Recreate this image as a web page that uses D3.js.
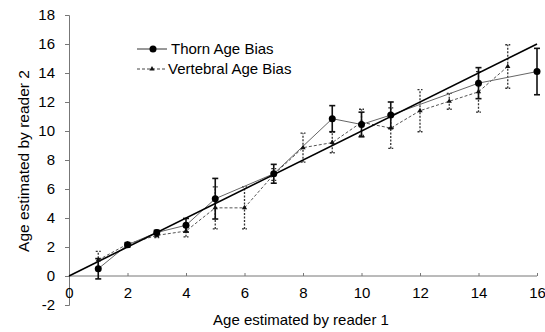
<!DOCTYPE html>
<html>
<head>
<meta charset="utf-8">
<script src="https://cdn.jsdelivr.net/npm/d3@7/dist/d3.min.js"></script>
<style>
  html, body { margin: 0; padding: 0; background: #fff; }
  svg { display: block; font-family: "Liberation Sans", Arial, sans-serif; }
</style>
</head>
<body>
<svg id="chart" width="545" height="332"></svg>
<script>
// Age estimates: reader 1 (x) against reader 2 (y)
const thornX   = [1, 2, 3, 4, 5, 7, 9, 10, 11, 14, 16];
const thornY   = [0.5, 2.15, 3.0, 3.5, 5.33, 7.05, 10.85, 10.45, 11.1, 13.3, 14.1];
const thornErr = [0.7, 0.15, 0.15, 0.47, 1.4, 0.65, 0.9, 0.85, 0.9, 1.07, 1.6];

const vertX   = [1, 2, 3, 4, 5, 6, 7, 8, 9, 10, 11, 12, 13, 14, 15];
const vertY   = [1.1, 2.2, 2.8, 3.1, 4.7, 4.7, 7.0, 8.85, 9.2, 10.6, 10.2, 11.4, 12.05, 12.7, 14.45];
const vertErr = [0.6, 0.1, 0.15, 0.4, 1.45, 1.45, 0.4, 1.0, 0.7, 0.9, 1.4, 1.45, 0.55, 1.4, 1.5];

const identityLine = [0, 16];
const xTicks = [0, 2, 4, 6, 8, 10, 12, 14, 16];
const yTicks = [-2, 0, 2, 4, 6, 8, 10, 12, 14, 16, 18];

const seriesNames = ["Thorn Age Bias", "Vertebral Age Bias"];
const xTitle = "Age estimated by reader 1";
const yTitle = "Age estimated by reader 2";

const svg = d3.select("#chart");

const x = d3.scaleLinear().domain([0, 16]).range([69, 537]);
const y = d3.scaleLinear().domain([-2, 18]).range([305, 15]);

const thorn = thornX.map((v, i) => ({ x: v, y: thornY[i], e: thornErr[i] }));
const vert = vertX.map((v, i) => ({ x: v, y: vertY[i], e: vertErr[i] }));

// Axes
const yAxis = d3.axisLeft(y).tickValues(yTicks).tickSize(4).tickPadding(10).tickFormat(d3.format("d"));
const gy = svg.append("g").attr("transform", `translate(${x(0)},0)`).call(yAxis);
gy.select(".domain").attr("stroke", "#777");
gy.selectAll(".tick line").attr("stroke", "#777");
gy.selectAll(".tick text").attr("font-size", 15).attr("fill", "#000")
  .attr("font-family", "Liberation Sans, Arial, sans-serif").text(d => d < 0 ? "-" + Math.abs(d) : d);

const xAxis = d3.axisTop(x).tickValues(xTicks).tickSize(3).tickFormat(d3.format("d"));
const gx = svg.append("g").attr("transform", `translate(0,${y(0)})`).call(xAxis);
gx.select(".domain").attr("stroke", "#777").attr("d", `M${x(0)},0H${x(16)}`);
gx.selectAll(".tick line").attr("stroke", "#777");
gx.selectAll(".tick text").attr("font-size", 15).attr("fill", "#000")
  .attr("font-family", "Liberation Sans, Arial, sans-serif")
  .attr("y", 21.5).attr("dy", 0);

// Axis titles
svg.append("text").attr("x", 301).attr("y", 325).attr("text-anchor", "middle")
  .attr("font-size", 15).text(xTitle);
svg.append("text").attr("transform", "translate(29,161) rotate(-90)")
  .attr("text-anchor", "middle").attr("font-size", 15.5).text(yTitle);

// Error bars
function errorBars(data, cls, stroke, width, dash, cap) {
  const g = svg.append("g").attr("class", cls)
    .attr("stroke", stroke).attr("stroke-width", width).attr("fill", "none");
  if (dash) g.attr("stroke-dasharray", dash);
  g.selectAll("line.v").data(data).join("line").attr("class", "v")
    .attr("x1", d => x(d.x)).attr("x2", d => x(d.x))
    .attr("y1", d => y(d.y - d.e)).attr("y2", d => y(d.y + d.e));
  g.selectAll("line.t").data(data).join("line").attr("class", "t")
    .attr("x1", d => x(d.x) - cap).attr("x2", d => x(d.x) + cap)
    .attr("y1", d => y(d.y + d.e)).attr("y2", d => y(d.y + d.e));
  g.selectAll("line.b").data(data).join("line").attr("class", "b")
    .attr("x1", d => x(d.x) - cap).attr("x2", d => x(d.x) + cap)
    .attr("y1", d => y(d.y - d.e)).attr("y2", d => y(d.y - d.e));
}
errorBars(vert, "vert-err", "#333", 1.3, "2,1.5", 2.5);
errorBars(thorn, "thorn-err", "#111", 1.6, null, 3);

// Series lines
const line = d3.line().x(d => x(d.x)).y(d => y(d.y));
svg.append("path").datum(vert).attr("d", line)
  .attr("fill", "none").attr("stroke", "#555").attr("stroke-width", 1).attr("stroke-dasharray", "3,2");
svg.append("path").datum(thorn).attr("d", line)
  .attr("fill", "none").attr("stroke", "#666").attr("stroke-width", 1);

// 1:1 line
svg.append("line")
  .attr("x1", x(identityLine[0])).attr("y1", y(identityLine[0]))
  .attr("x2", x(identityLine[1])).attr("y2", y(identityLine[1]))
  .attr("stroke", "#000").attr("stroke-width", 1.6);

// Markers
const tri = d3.symbol().type(d3.symbolTriangle).size(12);
svg.append("g").selectAll("path").data(vert).join("path")
  .attr("d", tri).attr("transform", d => `translate(${x(d.x)},${y(d.y)})`).attr("fill", "#111");
svg.append("g").selectAll("circle").data(thorn).join("circle")
  .attr("cx", d => x(d.x)).attr("cy", d => y(d.y)).attr("r", 3.5).attr("fill", "#000");

// Legend
const lg = svg.append("g");
lg.append("line").attr("x1", 137).attr("x2", 167).attr("y1", 49).attr("y2", 49)
  .attr("stroke", "#333").attr("stroke-width", 1);
lg.append("circle").attr("cx", 153).attr("cy", 49).attr("r", 3.5).attr("fill", "#000");
lg.append("text").attr("x", 171).attr("y", 54).attr("font-size", 15).text(seriesNames[0]);
lg.append("line").attr("x1", 137).attr("x2", 167).attr("y1", 69).attr("y2", 69)
  .attr("stroke", "#444").attr("stroke-width", 1).attr("stroke-dasharray", "3,2");
lg.append("path").attr("d", tri).attr("transform", "translate(152,69)").attr("fill", "#111");
lg.append("text").attr("x", 168).attr("y", 74).attr("font-size", 15).text(seriesNames[1]);
</script>
</body>
</html>
